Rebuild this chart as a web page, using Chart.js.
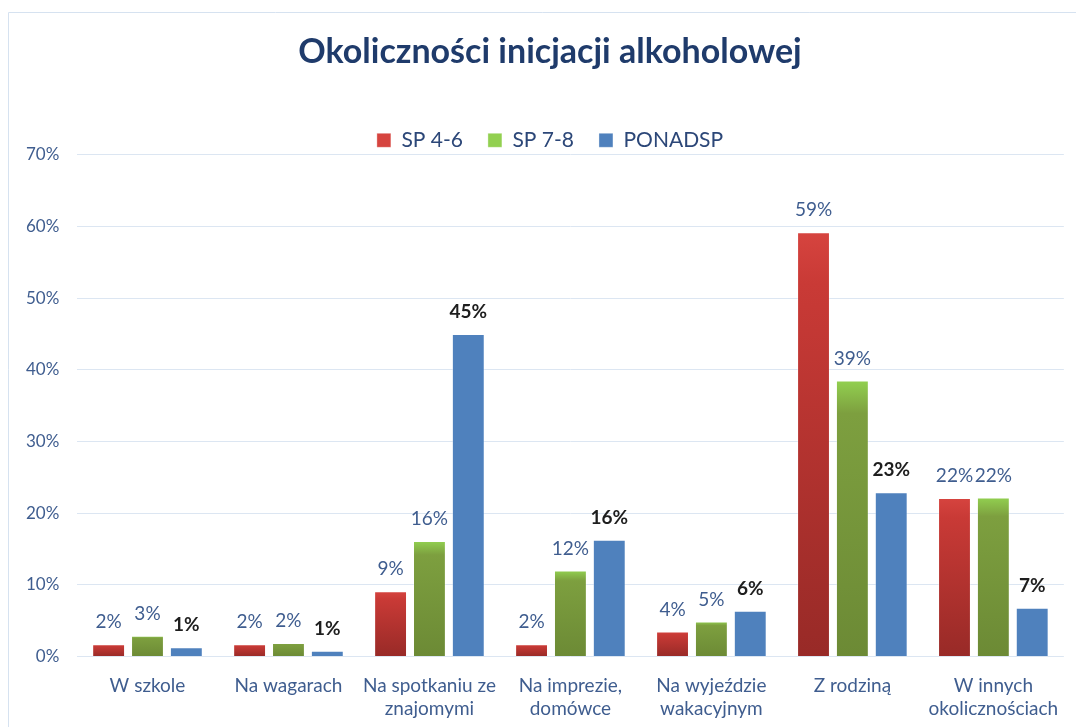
<!DOCTYPE html>
<html>
<head>
<meta charset="utf-8">
<script src="https://cdn.jsdelivr.net/npm/chart.js@4"></script>
<style>
  html, body { margin: 0; padding: 0; background: #fff; }
  #wrap { width: 1076px; height: 727px; }
</style>
</head>
<body>
<div id="wrap"><canvas id="myChart" width="1076" height="727"></canvas></div>
<script>
// Categories and series (percent)
const categories = [
    'W szkole',
    'Na wagarach',
    ['Na spotkaniu ze', 'znajomymi'],
    ['Na imprezie,', 'domówce'],
    ['Na wyjeździe', 'wakacyjnym'],
    'Z rodziną',
    ['W innych', 'okolicznościach']
];
const sp46 = [1.7, 1.7, 9.1, 1.7, 3.5, 59.2, 22.1];
const sp78 = [2.9, 1.9, 16.1, 12.0, 4.9, 38.5, 22.2];
const ponadsp = [1.3, 0.8, 45.0, 16.3, 6.4, 22.9, 6.8];
const yTicks = [0, 10, 20, 30, 40, 50, 60, 70];

// per-bar vertical gradient, lighter at the top
function barFill(light, mid, dark) {
    return function (ctx) {
        const chart = ctx.chart;
        if (!chart.chartArea || ctx.type !== 'data') return mid;
        const y = chart.scales.y;
        const top = y.getPixelForValue(ctx.raw);
        const base = y.getPixelForValue(0);
        if (!isFinite(top) || base - top < 1) return mid;
        const g = chart.ctx.createLinearGradient(0, top, 0, base);
        g.addColorStop(0, light);
        g.addColorStop(0.12, mid);
        g.addColorStop(1, dark);
        return g;
    };
}

// value labels above bars
const valueLabels = {
    id: 'valueLabels',
    afterDatasetsDraw(chart) {
        const ctx = chart.ctx;
        ctx.save();
        ctx.textAlign = 'center';
        ctx.textBaseline = 'middle';
        chart.data.datasets.forEach((ds, i) => {
            const meta = chart.getDatasetMeta(i);
            ctx.font = (i === 2 ? 'bold ' : '') + '19px Lato';
            ctx.fillStyle = i === 2 ? '#1e1e1e' : '#3f5d8f';
            meta.data.forEach((bar, j) => {
                ctx.fillText(Math.round(ds.data[j]) + '%', bar.x, bar.y - 22);
            });
        });
        ctx.restore();
    }
};

// light frame round the chart
const frame = {
    id: 'frame',
    beforeDraw(chart) {
        const ctx = chart.ctx;
        ctx.save();
        ctx.strokeStyle = '#d6e2f0';
        ctx.lineWidth = 1;
        ctx.beginPath();
        ctx.moveTo(8.5, chart.height);
        ctx.lineTo(8.5, 12.5);
        ctx.lineTo(chart.width, 12.5);
        ctx.stroke();
        ctx.restore();
    }
};

const chart_data = {
    labels: categories,
    datasets: [{
        label: 'SP 4-6',
        data: sp46,
        backgroundColor: barFill('#d6443f', '#c93a36', '#982a27'),
        borderColor: 'rgba(255,255,255,0.35)',
        borderWidth: 1
    }, {
        label: 'SP 7-8',
        data: sp78,
        backgroundColor: barFill('#92d050', '#7d9f3f', '#6c8a35'),
        borderColor: 'rgba(255,255,255,0.35)',
        borderWidth: 1
    }, {
        label: 'PONADSP',
        data: ponadsp,
        backgroundColor: '#4f81bd',
        borderColor: 'rgba(255,255,255,0.35)',
        borderWidth: 1
    }]
};

const chart_config = {
    type: 'bar',
    data: chart_data,
    plugins: [frame, valueLabels],
    options: {
        responsive: false,
        animation: false,
        categoryPercentage: 0.827,
        barPercentage: 0.846,
        layout: { padding: { left: 35, right: 11, top: 16, bottom: -11 } },
        plugins: {
            title: {
                display: true,
                text: 'Okoliczności inicjacji alkoholowej',
                color: '#1f3b6b',
                font: { family: 'Lato', size: 34, weight: 'bold' },
                padding: { top: 16, bottom: 32 }
            },
            legend: {
                position: 'top',
                maxHeight: 50,
                labels: {
                    boxWidth: 14,
                    boxHeight: 14,
                    padding: 25,
                    color: '#2c4778',
                    font: { family: 'Lato', size: 21 }
                }
            },
            tooltip: { enabled: false }
        },
        scales: {
            x: {
                grid: { display: false, drawTicks: false },
                border: { display: false },
                ticks: {
                    color: '#3f5d8f',
                    font: { family: 'Lato', size: 19, lineHeight: 1.25 },
                    padding: 17,
                    maxRotation: 0,
                    autoSkip: false
                }
            },
            y: {
                min: 0,
                max: 70,
                afterBuildTicks(scale) {
                    scale.ticks = yTicks.map(v => ({ value: v }));
                },
                afterFit(scale) {
                    scale.width = 42;
                },
                grid: { color: '#dce6f2', lineWidth: 1, drawTicks: false },
                border: { display: false },
                ticks: {
                    color: '#3f5d8f',
                    font: { family: 'Lato', size: 17 },
                    // mirrored so the labels are not clipped to the narrow axis box;
                    // pulled back to the left of the plot, right-aligned
                    mirror: true,
                    crossAlign: 'far',
                    padding: -51,
                    callback: v => v + '%'
                }
            }
        }
    }
};

const myChart = new Chart(document.getElementById('myChart'), chart_config);
</script>
</body>
</html>
